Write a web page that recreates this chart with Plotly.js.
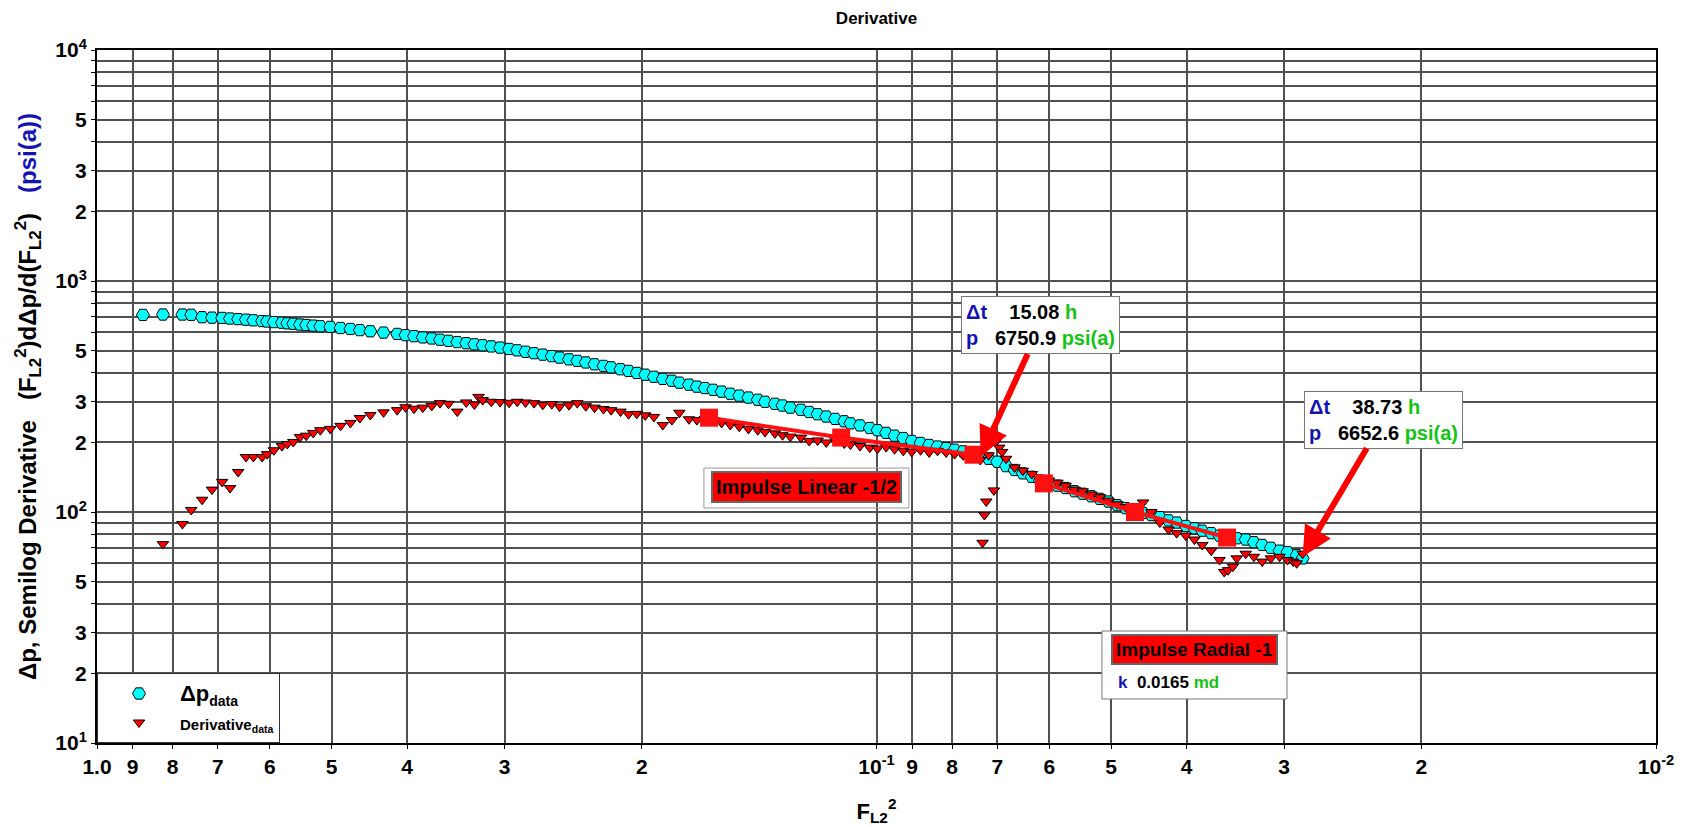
<!DOCTYPE html>
<html><head><meta charset="utf-8">
<script src="https://cdn.plot.ly/plotly-3.0.1.min.js"></script>
<style>html,body{margin:0;padding:0;background:#fff}#chart{width:1692px;height:827px}</style>
</head><body><div id="chart"></div>
<script>
// ---- data ----
const fl2Dp = [0.873,0.823,0.777,0.757,0.733,0.712,0.691,0.675,0.659,0.644,0.630,0.614,0.605,0.593,0.579,0.570,0.560,0.549,0.539,0.528,0.517,0.502,0.487,0.473,0.460,0.446,0.429,0.412,0.402,0.392,0.382,0.372,0.363,0.354,0.345,0.336,0.328,0.320,0.312,0.304,0.296,0.289,0.282,0.275,0.268,0.261,0.255,0.248,0.242,0.236,0.230,0.224,0.219,0.213,0.208,0.203,0.198,0.193,0.188,0.183,0.179,0.174,0.170,0.166,0.162,0.158,0.154,0.150,0.146,0.142,0.139,0.135,0.132,0.129,0.125,0.122,0.119,0.116,0.113,0.110,0.108,0.105,0.102,0.0997,0.0972,0.0948,0.0924,0.0901,0.0878,0.0856,0.0835,0.0814,0.0794,0.0774,0.0755,0.0736,0.0718,0.0700,0.0682,0.0665,0.0649,0.0632,0.0617,0.0601,0.0586,0.0572,0.0557,0.0544,0.0530,0.0517,0.0504,0.0491,0.0479,0.0467,0.0455,0.0444,0.0433,0.0422,0.0412,0.0401,0.0391,0.0382,0.0372,0.0363,0.0354,0.0345,0.0336,0.0328,0.0320,0.0312,0.0304,0.0297,0.0289,0.0284];
const dp = [713,716,716,714,697,694,692,688,684,680,676,671,668,664,660,656,653,648,645,641,637,633,626,620,613,606,598,590,583,577,570,564,557,551,544,538,532,527,521,515,508,501,494,487,480,473,466,458,451,444,436,429,423,415,408,400,393,385,377,370,363,356,349,344,338,332,325,319,313,306,300,294,289,283,277,271,265,259,253,247,242,237,231,226,220,214,209,203,199,195,192,189,186,183,179,175,170,165,158,152,147,142,137,133,130,127,123,120,117,114,111,107,104,101,99,97,95,92,90,87,85,83,81,79,78,77,76,74,72,70,68,67,65,63];

const fl2Der = [0.823,0.777,0.757,0.733,0.712,0.691,0.675,0.659,0.644,0.630,0.614,0.605,0.593,0.579,0.570,0.560,0.549,0.539,0.528,0.517,0.502,0.487,0.473,0.460,0.446,0.429,0.412,0.402,0.392,0.382,0.372,0.363,0.354,0.345,0.336,0.328,0.324,0.320,0.312,0.304,0.296,0.289,0.282,0.275,0.268,0.261,0.255,0.248,0.242,0.236,0.230,0.224,0.219,0.213,0.208,0.203,0.198,0.193,0.188,0.183,0.179,0.174,0.170,0.166,0.162,0.158,0.154,0.150,0.146,0.142,0.139,0.135,0.132,0.129,0.125,0.122,0.119,0.116,0.113,0.110,0.108,0.105,0.102,0.0997,0.0972,0.0948,0.0924,0.0901,0.0878,0.0856,0.0835,0.0814,0.0794,0.0774,0.0755,0.0736,0.0731,0.0727,0.0723,0.0718,0.0707,0.0700,0.0696,0.0690,0.0682,0.0665,0.0649,0.0632,0.0617,0.0601,0.0586,0.0572,0.0557,0.0544,0.0530,0.0517,0.0504,0.0491,0.0479,0.0467,0.0455,0.0444,0.0433,0.0422,0.0412,0.0401,0.0391,0.0382,0.0372,0.0363,0.0358,0.0354,0.0349,0.0345,0.0336,0.0328,0.0320,0.0312,0.0304,0.0297,0.0292,0.0289,0.0284];
const deriv = [72.6,88.7,102,113,125,135,127,149,173,173,173,178,185,193,197,201,211,214,220,226,229,236,243,255,263,270,276,284,280,283,288,296,294,272,298,292,315,305,300,299,297,300,298,296,291,293,286,290,296,287,283,279,276,272,265,266,262,258,238,250,269,252,250,253,250,243,238,234,229,226,222,219,215,212,210,203,204,200,205,198,196,193,190,188,191,187,184,182,185,181,184,181,178,176,172,168,73.6,97,111,176,124,205,190,182,170,156,151,146,140,137,134,130,125,123,119,116,112,108,105,103,110,100,90,84,81,79,76,72,68,62,55,56,58,63,66,64,61,63,64,62,61,60,66];

const linFitX = [0.164, 0.111, 0.0751];
const linFitY = [256, 210, 177];
const radFitX = [0.061, 0.0466, 0.0355];
const radFitY = [133, 100, 77.5];

const pickX = [0.0735, 0.0284];
const pickY = [174, 64];
const pickDt = ['15.08', '38.73'];
const pickP = ['6750.9', '6652.6'];

const xTickVals = [1.0,0.9,0.8,0.7,0.6,0.5,0.4,0.3,0.2,0.1,0.09,0.08,0.07,0.06,0.05,0.04,0.03,0.02,0.01];
const xTickText = ['1.0','9','8','7','6','5','4','3','2','10<sup>-1</sup>','9','8','7','6','5','4','3','2','10<sup>-2</sup>'];
const yTickVals = [10,20,30,50,100,200,300,500,1000,2000,3000,5000,10000];
const yTickText = ['10<sup>1</sup>','2','3','5','10<sup>2</sup>','2','3','5','10<sup>3</sup>','2','3','5','10<sup>4</sup>'];
const yGridOnly = [40,60,70,80,90,400,600,700,800,900,4000,6000,7000,8000,9000];

// ---- drawing ----
const FONT = 'Liberation Sans, Arial, sans-serif';
const BLUE = '#1414b4', GREEN = '#14c414';
const bold = s => '<b>' + s + '</b>';
const GRID = '#505050';

const traces = [
  {type:'scatter', mode:'markers', x: fl2Dp, y: dp,
   name:'<b><span style="font-size:22px">Δp</span><sub>data</sub></b>',
   marker:{symbol:'hexagon2', size:13, color:'#00ffff', line:{color:'#000', width:1}}},
  {type:'scatter', mode:'markers', x: fl2Der, y: deriv,
   name:'<b><span style="font-size:15px">Derivative<sub>data</sub></span></b>',
   marker:{symbol:'triangle-down', size:10, color:'#ff0000', line:{color:'#000', width:1}}},
  {type:'scatter', mode:'lines+markers', x: linFitX, y: linFitY, showlegend:false, hoverinfo:'skip',
   line:{color:'#ff1010', width:4}, marker:{symbol:'square', size:18, color:'#ff1010'}},
  {type:'scatter', mode:'lines+markers', x: radFitX, y: radFitY, showlegend:false, hoverinfo:'skip',
   line:{color:'#ff1010', width:4}, marker:{symbol:'square', size:18, color:'#ff1010'}}
];

function pickText(i){
  return '<b><span style="color:'+BLUE+'">Δt</span>\u00a0\u00a0\u00a0\u00a0'+pickDt[i]+'\u00a0<span style="color:'+GREEN+'">h</span><br>'+
         '<span style="color:'+BLUE+'">p</span>\u00a0\u00a0\u00a0'+pickP[i]+'\u00a0<span style="color:'+GREEN+'">psi(a)</span></b>';
}

const annotations = [
  {x: Math.log10(pickX[0]), y: Math.log10(pickY[0]), xref:'x', yref:'y', ax:60, ay:-131,
   text: pickText(0), showarrow:true, arrowcolor:'#ff0000', arrowwidth:6, arrowhead:2, arrowsize:1,
   bgcolor:'#fff', bordercolor:'#777', borderwidth:1, borderpad:4, align:'left',
   font:{family:FONT, size:20, color:'#000'}},
  {x: Math.log10(pickX[1]), y: Math.log10(pickY[1]), xref:'x', yref:'y', ax:81, ay:-137,
   text: pickText(1), showarrow:true, arrowcolor:'#ff0000', arrowwidth:6, arrowhead:2, arrowsize:1,
   bgcolor:'#fff', bordercolor:'#777', borderwidth:1, borderpad:4, align:'left',
   font:{family:FONT, size:20, color:'#000'}},
  {x:0.4548, y:0.3694, xref:'paper', yref:'paper', xanchor:'center', yanchor:'middle', showarrow:false,
   text:'<b>Impulse Linear -1/2</b>', bgcolor:'#ff0000', bordercolor:'#666', borderwidth:2, borderpad:3,
   font:{family:FONT, size:20, color:'#000'}},
  {x:0.704, y:0.1342, xref:'paper', yref:'paper', xanchor:'center', yanchor:'middle', showarrow:false,
   text:'<b>Impulse Radial -1</b>', bgcolor:'#ff0000', bordercolor:'#666', borderwidth:2, borderpad:3,
   font:{family:FONT, size:19, color:'#000'}},
  {x:0.6536, y:0.0866, xref:'paper', yref:'paper', xanchor:'left', yanchor:'middle', showarrow:false,
   text:'<b><span style="color:'+BLUE+'">k</span>\u00a0\u00a00.0165\u00a0<span style="color:'+GREEN+'">md</span></b>',
   font:{family:FONT, size:17, color:'#000'}}
];

const shapes = [
  {type:'rect', xref:'paper', yref:'paper', x0:0.6446, x1:0.7633, y0:0.0635, y1:0.1616,
   line:{color:'#777', width:1}, fillcolor:'#fff', layer:'above'},
  {type:'rect', xref:'paper', yref:'paper', x0:0.3893, x1:0.5208, y0:0.3391, y1:0.3968,
   line:{color:'#999', width:1}, fillcolor:'rgba(0,0,0,0)', layer:'above'}
];

const axisFont = {family:FONT, size:21, color:'#000'};

const layout = {
  width:1692, height:827,
  margin:{l:97, r:36, t:50, b:84},
  paper_bgcolor:'#fff', plot_bgcolor:'#fff',
  font:{family:FONT, color:'#000'},
  title:{text:'<b>Derivative</b>', font:{family:FONT, size:17, color:'#000'}, x:0.5, xref:'paper', y:0.978, yref:'container', yanchor:'middle'},
  xaxis:{type:'log', range:[0,-2], tickmode:'array', tickvals:xTickVals, ticktext:xTickText.map(bold),
    tickfont:axisFont, showgrid:true, gridcolor:GRID, gridwidth:2,
    showline:true, linecolor:'#000', linewidth:2, mirror:true, ticks:'outside', ticklen:4, tickcolor:'#000',
    zeroline:false,
    title:{text:'<b>F<sub>L2</sub><sup>2</sup></b>', font:{family:FONT, size:22, color:'#000'}, standoff:26}},
  yaxis:{type:'log', range:[1,4], tickmode:'array', tickvals:yTickVals, ticktext:yTickText.map(bold),
    tickfont:axisFont, showgrid:true, gridcolor:GRID, gridwidth:2,
    minor:{tickmode:'array', tickvals:yGridOnly, showgrid:true, gridcolor:GRID, gridwidth:2, ticks:'outside', ticklen:4, tickcolor:'#000'},
    showline:true, linecolor:'#000', linewidth:2, mirror:true, ticks:'outside', ticklen:4, tickcolor:'#000',
    zeroline:false,
    title:{text:'<b>Δp, Semilog Derivative \u00a0\u00a0(F<sub>L2</sub><sup>2</sup>)dΔp/d(F<sub>L2</sub><sup>2</sup>) \u00a0\u00a0<span style="color:'+BLUE+'">(psi(a))</span></b>',
      font:{family:FONT, size:24, color:'#000'}, standoff:12}},
  legend:{x:0, y:0, xanchor:'left', yanchor:'bottom', bgcolor:'#fff', bordercolor:'#333', borderwidth:1,
    font:{family:FONT, size:20, color:'#000'}, itemwidth:72, tracegroupgap:0},
  showlegend:true,
  annotations: annotations,
  shapes: shapes
};

Plotly.newPlot('chart', traces, layout, {displayModeBar:false, staticPlot:true});
</script></body></html>
